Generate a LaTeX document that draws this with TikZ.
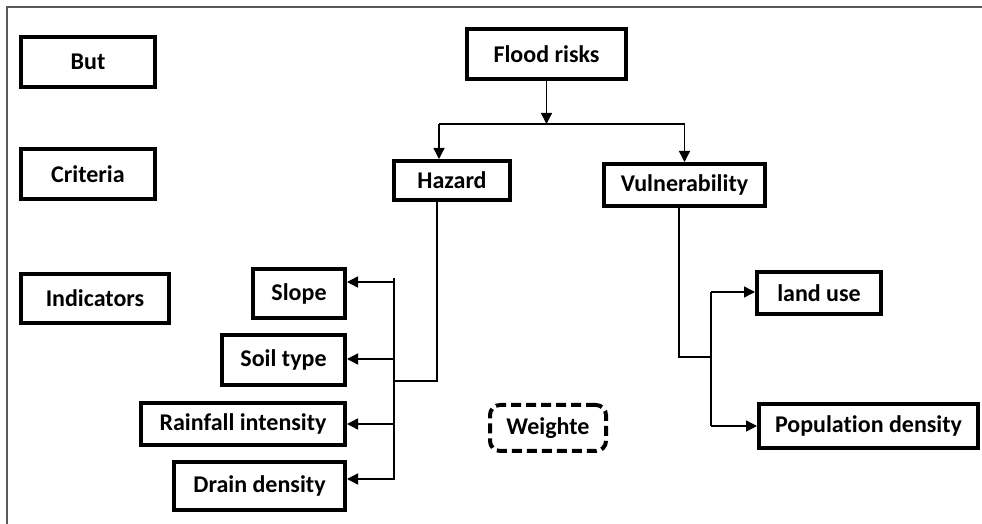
\documentclass[tikz,border=0pt]{standalone}
\usepackage{fontspec}
\setmainfont{Carlito}[Ligatures=NoCommon]
\usetikzlibrary{arrows.meta}

\tikzset{
  box/.style={draw, line width=2pt, inner sep=0pt, font=\bfseries\fontsize{12}{14}\selectfont},
  wbox/.style={box, dash pattern=on 5pt off 2.5pt, rounded corners=5pt},
  conn/.style={line width=0.7pt},
  arr/.style={conn, -{Triangle[length=5.5pt,width=5.5pt]}}
}

\begin{document}
\begin{tikzpicture}[x=0.5pt,y=-0.5pt]
\useasboundingbox (0,0) rectangle (982,524);
\draw[black!65, line width=0.8pt] (7,524) -- (7,7) -- (982,7);
% levels on the left
\node[box, minimum width=67pt, minimum height=25pt] (but) at (88,62) {But};
\node[box, minimum width=67pt, minimum height=25pt] (crit) at (88,174) {Criteria};
\node[box, minimum width=74pt, minimum height=24.5pt] (ind) at (95,298.5) {Indicators};
% tree
\node[box, minimum width=79.5pt, minimum height=25pt] (flood) at (546.5,54) {Flood risks};
\node[box, minimum width=58pt, minimum height=19.5pt] (hazard) at (452,180.5) {Hazard};
\node[box, minimum width=80.5pt, minimum height=21pt] (vuln) at (684.5,185) {Vulnerability};
\node[box, minimum width=46pt, minimum height=24.5pt] (slope) at (299,293.5) {Slope};
\node[box, minimum width=61.5pt, minimum height=25pt] (soil) at (283.5,360) {Soil type};
\node[box, minimum width=102pt, minimum height=21pt] (rain) at (243,424) {Rainfall intensity};
\node[box, minimum width=85.5pt, minimum height=24pt] (drain) at (259.5,486) {Drain density};
\node[wbox, minimum width=58pt, minimum height=23pt] (weight) at (548,428) {Weighte};
\node[box, minimum width=62pt, minimum height=21pt] (land) at (819,293) {land use};
\node[box, minimum width=109.5pt, minimum height=22pt] (pop) at (868.5,426) {Population density};
% flood risks split
\coordinate (split) at (546,124);
\coordinate (hl) at (439,124);
\coordinate (hr) at (684.5,124);
\draw[arr] (flood.south) -- (flood.south |- split);
\draw[conn] (hl) -- (hr);
\draw[arr] (hl) -- (hl |- hazard.north);
\draw[arr] (hr) -- (vuln.north);
% hazard indicators
\coordinate (hturn) at (437,381);
\coordinate (btop) at (394,278);
\coordinate (bbot) at (394,480);
\draw[conn] (hturn |- hazard.south) -- (hturn) -- (hturn -| btop);
\draw[conn] (btop) -- (bbot);
\foreach \n/\y in {slope/282, soil/359, rain/424, drain/479}
  \draw[arr] (394,\y) -- (\n.east |- 394,\y);
% vulnerability indicators
\coordinate (vturn) at (679,357);
\coordinate (vtop) at (711,292);
\coordinate (vbot) at (711,426);
\draw[conn] (vturn |- vuln.south) -- (vturn) -- (vturn -| vtop);
\draw[conn] (vtop) -- (vbot);
\draw[arr] (vtop) -- (land.west |- vtop);
\draw[arr] (vbot) -- (pop.west |- vbot);
\end{tikzpicture}
\end{document}
